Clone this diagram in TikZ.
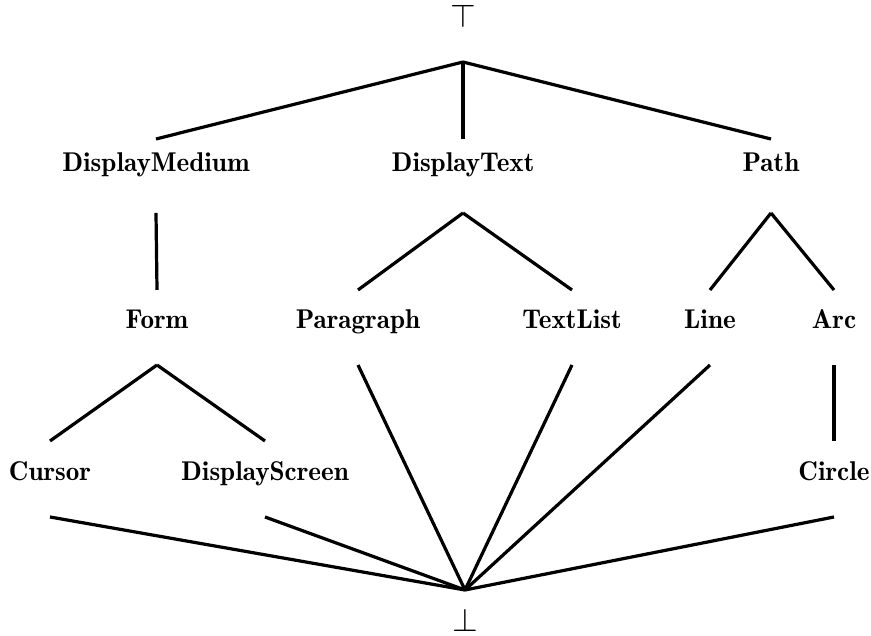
\documentclass[tikz,border=0pt]{standalone}
\begin{document}
\begin{tikzpicture}[x=0.28pt, y=-0.28pt,
  lbl/.style={inner sep=0pt, outer sep=0pt, anchor=base,
              font=\fontsize{7.6}{9}\fontseries{b}\selectfont},
  sym/.style={inner sep=0pt, outer sep=0pt, anchor=base,
              font=\fontsize{9.5}{11}\selectfont},
  rowone/.style={lbl, text height=9.24pt, text depth=11.48pt},
  rowtwo/.style={lbl, text height=10.92pt, text depth=10.08pt},
  rowthree/.style={lbl, text height=11.2pt, text depth=10.08pt},
  edge/.style={line width=0.9pt}]
  \useasboundingbox (0,0) rectangle (871,636);

  % top and bottom elements of the lattice
  \node[sym, text depth=9.52pt] (top) at (463,28) {$\top$};
  \node[sym, text height=11.76pt] (bot) at (465,632) {$\bot$};

  % first level
  \node[rowone] (dm)   at (156,172) {DisplayMedium};
  \node[rowone] (dt)   at (463,172) {DisplayText};
  \node[rowone] (path) at (771,172) {Path};

  % second level
  \node[rowtwo] (form) at (157,329) {Form};
  \node[rowtwo] (para) at (358,329) {Paragraph};
  \node[rowtwo] (tl)   at (572,329) {TextList};
  \node[rowtwo] (line) at (710,329) {Line};
  \node[rowtwo] (arc)  at (834,329) {Arc};

  % third level
  \node[rowthree] (cursor) at (50,481)  {Cursor};
  \node[rowthree] (ds)     at (265,481) {DisplayScreen};
  \node[rowthree] (circle) at (834,481) {Circle};

  % order relations
  \foreach \a/\b in {top/dm, top/dt, top/path, dm/form, dt/para, dt/tl,
                     path/line, path/arc, form/cursor, form/ds, arc/circle,
                     cursor/bot, ds/bot, para/bot, tl/bot, line/bot, circle/bot}
    \draw[edge] (\a.south) -- (\b.north);
\end{tikzpicture}
\end{document}
